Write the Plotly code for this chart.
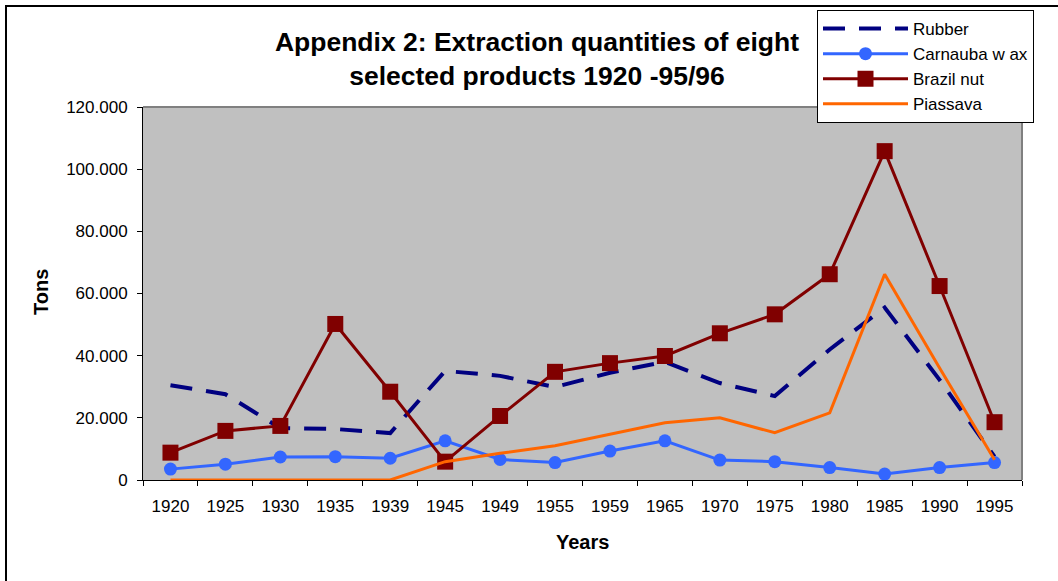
import plotly.graph_objects as go

years = ["1920", "1925", "1930", "1935", "1939", "1945", "1949", "1955",
         "1959", "1965", "1970", "1975", "1980", "1985", "1990", "1995"]
rubber = [30500, 27600, 16700, 16400, 15100, 35100, 33500, 29900,
          34500, 38000, 31200, 27000, 42000, 55500, 32200, 7500]
carnauba = [3500, 5100, 7400, 7500, 7000, 12600, 6600, 5600,
            9300, 12600, 6400, 5900, 4000, 1900, 4000, 5600]
brazil_nut = [8800, 15800, 17400, 50200, 28400, 5900, 20600, 34800,
              37600, 39900, 47200, 53300, 66200, 105800, 62400, 18600]
piassava = [0, 0, 0, 0, 0, 5900, 8600, 11000,
            14800, 18400, 20000, 15200, 21600, 66200, 36000, 6500]

FONT = "Liberation Sans, Arial, sans-serif"
W, H = 1058, 581
# plot area in page pixels
L, R, T, B = 143, 1022, 107, 480


def px(x):
    return (x - L) / (R - L)


def py(y):
    return (B - y) / (B - T)


fig = go.Figure()
fig.add_trace(go.Scatter(x=years, y=rubber, name="Rubber", mode="lines",
                         line=dict(color="#000080", width=4, dash="22px,14px")))
fig.add_trace(go.Scatter(x=years, y=carnauba, name="Carnauba w ax", mode="lines+markers",
                         line=dict(color="#3366FF", width=3),
                         marker=dict(symbol="circle", size=13, color="#3366FF")))
fig.add_trace(go.Scatter(x=years, y=brazil_nut, name="Brazil nut", mode="lines+markers",
                         line=dict(color="#800000", width=3),
                         marker=dict(symbol="square", size=16, color="#800000")))
fig.add_trace(go.Scatter(x=years, y=piassava, name="Piassava", mode="lines",
                         line=dict(color="#FF6600", width=3)))

fig.update_layout(
    width=W, height=H,
    margin=dict(l=L, r=W - R, t=T, b=H - B, autoexpand=False),
    paper_bgcolor="white", plot_bgcolor="#C0C0C0",
    separators=",.",
    font=dict(family=FONT, size=17, color="black"),
    title=dict(text="<b>Appendix 2: Extraction quantities of eight<br>selected products 1920 -95/96</b>",
               font=dict(family=FONT, size=26.5, color="black"),
               xref="paper", x=px(537), xanchor="center",
               yref="container", y=1 - 51 / H, yanchor="top"),
    showlegend=True,
    legend=dict(x=px(817), y=py(10), xanchor="left", yanchor="top",
                bgcolor="white", bordercolor="black", borderwidth=1,
                font=dict(family=FONT, size=17, color="black"),
                itemwidth=85, tracegroupgap=0),
    xaxis=dict(type="category", categoryorder="array", categoryarray=years,
               range=[-0.5, len(years) - 0.5], autorange=False,
               showgrid=False, zeroline=False,
               showline=True, linecolor="black", linewidth=1,
               ticks="outside", tickson="boundaries", ticklen=5, tickcolor="black",
               tickfont=dict(family=FONT, size=17, color="black"),
               ticklabelstandoff=11),
    yaxis=dict(range=[0, 120000], dtick=20000, tickformat=",",
               showgrid=False, zeroline=False,
               showline=True, linecolor="black", linewidth=1,
               ticks="outside", ticklen=5, tickcolor="black",
               tickfont=dict(family=FONT, size=17, color="black"),
               ticklabelstandoff=6),
    shapes=[
        dict(type="rect", xref="paper", yref="paper",
             x0=px(6), x1=px(1090), y0=py(6), y1=py(620),
             line=dict(color="black", width=2), layer="below"),
        dict(type="line", xref="paper", yref="paper",
             x0=0, x1=1, y0=1, y1=1, line=dict(color="#808080", width=2)),
        dict(type="line", xref="paper", yref="paper",
             x0=1, x1=1, y0=0, y1=1, line=dict(color="#808080", width=2)),
    ],
    annotations=[
        dict(text="<b>Tons</b>", textangle=-90, xref="paper", yref="paper",
             x=px(41), y=py(292), xanchor="center", yanchor="middle",
             showarrow=False, font=dict(family=FONT, size=20, color="black")),
        dict(text="<b>Years</b>", xref="paper", yref="paper",
             x=px(582), y=py(542), xanchor="center", yanchor="middle",
             showarrow=False, font=dict(family=FONT, size=20, color="black")),
    ],
)

fig.write_html("out.html",
               config={"displayModeBar": False},
               post_script="document.body.style.margin='0';"
                           "document.body.style.overflow='hidden';")
